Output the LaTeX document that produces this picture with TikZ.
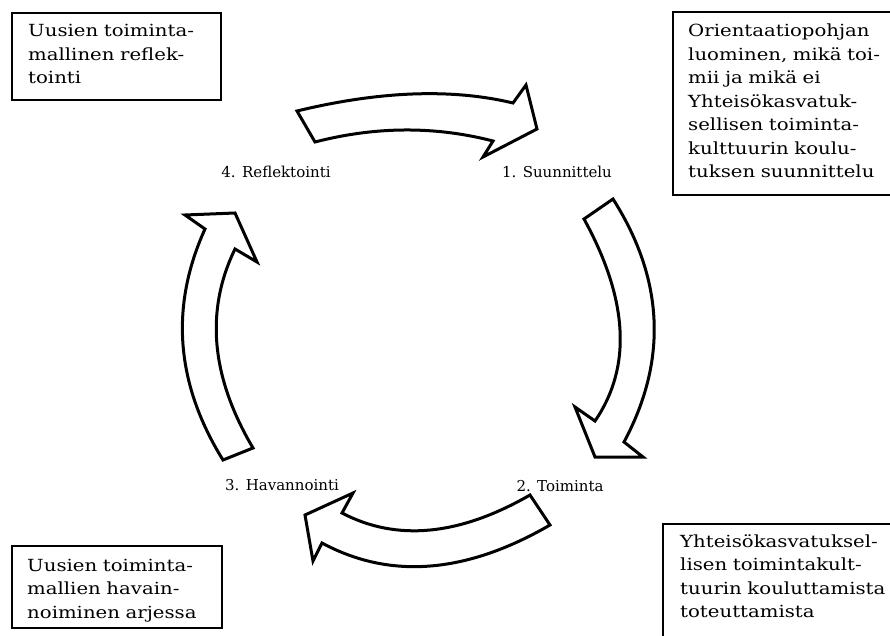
\documentclass[tikz,border=0pt]{standalone}
\usepackage{fontspec}
\setmainfont{DejaVu Serif}[FakeStretch=1.18]
\newfontfamily\phasefont{DejaVu Serif}
\begin{document}
\begin{tikzpicture}[x=1pt,y=-1pt]
\tikzset{
  cyclearrow/.style={draw=black, line width=3pt, fill=white, line join=miter, miter limit=4},
  panel/.style={draw=black, line width=1.6pt, fill=white, inner sep=0pt, anchor=north west},
  paneltext/.style={font=\fontsize{16.7}{23.5}\selectfont, align=left, text width=230pt, inner sep=0pt, anchor=base west},
  phase/.style={font=\phasefont\fontsize{15}{18}\selectfont, inner sep=0pt, anchor=base}
}
\useasboundingbox (0,0) rectangle (890,636);
\fill[white] (0,0) rectangle (890,636);

% cycle arrows
\draw[cyclearrow] (297,111) .. controls (379.7,91) and (451.7,88.3) .. (513,103)
  -- (526,85) -- (537,129) -- (483,157) -- (493,141)
  .. controls (435,126) and (375.7,126.3) .. (315,142) -- cycle;
\draw[cyclearrow] (584,219) .. controls (628.3,299.7) and (632,367) .. (595,421)
  -- (575,407) -- (595,457) -- (643,457) -- (624,442)
  .. controls (667.7,360.3) and (664,279.3) .. (613,199) -- cycle;
\draw[cyclearrow] (530,495) .. controls (459.3,535.7) and (396.7,541.7) .. (342,513)
  -- (353,493) -- (305,515) -- (313,561) -- (322,543)
  .. controls (390,579.7) and (466,573.7) .. (550,525) -- cycle;
\draw[cyclearrow] (223,460) .. controls (175.7,383.7) and (169.7,306.7) .. (205,229)
  -- (185,215) -- (235,213) -- (257,262) -- (235,249)
  .. controls (205,310.7) and (211,377) .. (253,448) -- cycle;

% phase labels
\node[phase] (plan) at (557,178) {1. Suunnittelu};
\node[phase] (act)  at (560,491) {2. Toiminta};
\node[phase] (obs)  at (282,490) {3. Havannointi};
\node[phase] (refl) at (276,178) {4. Reflektointi};

% description panels
\node[panel, minimum width=209pt, minimum height=87pt] (tlbox) at (11,12) {};
\node[paneltext] (tltext) at (28,37) {Uusien toiminta-\\mallinen reflek-\\tointi};

\node[panel, minimum width=230pt, minimum height=183pt] (trbox) at (672,11) {};
\node[paneltext] (trtext) at (688,37) {Orientaatiopohjan\\luominen, mikä toi-\\mii ja mikä ei\\Yhteisökasvatuk-\\sellisen toiminta-\\kulttuurin koulu-\\tuksen suunnittelu};

\node[panel, minimum width=210pt, minimum height=82pt] (blbox) at (11,545) {};
\node[paneltext] (bltext) at (27,571) {Uusien toiminta-\\mallien havain-\\noiminen arjessa};

\node[panel, minimum width=240pt, minimum height=130pt] (brbox) at (662,523) {};
\node[paneltext] (brtext) at (680,547) {Yhteisökasvatuksel-\\lisen toimintakult-\\tuurin kouluttamista\\toteuttamista};
\end{tikzpicture}
\end{document}
